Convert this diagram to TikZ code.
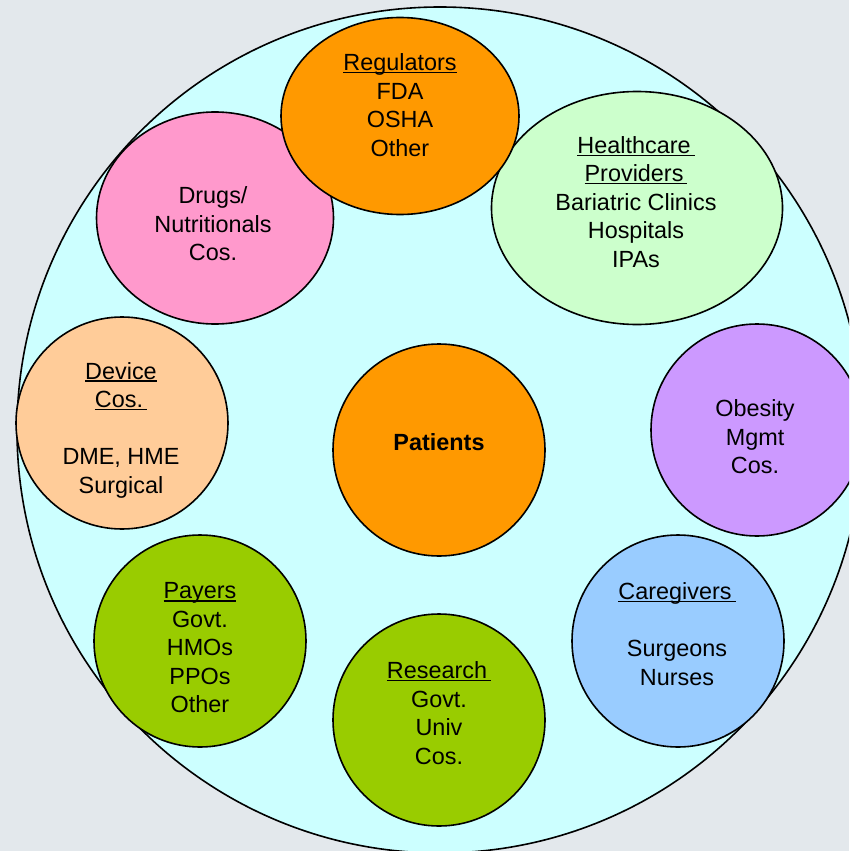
\documentclass[tikz,border=0pt]{standalone}
\usepackage{fontspec}
\setmainfont{Liberation Sans}
\usetikzlibrary{shapes.geometric}
\definecolor{page-grey}{HTML}{E3E8EC}
\definecolor{world-cyan}{HTML}{CCFFFF}
\definecolor{stake-orange}{HTML}{FF9900}
\definecolor{stake-mint}{HTML}{CCFFCC}
\definecolor{stake-pink}{HTML}{FF99CC}
\definecolor{stake-peach}{HTML}{FFCC99}
\definecolor{stake-lilac}{HTML}{CC99FF}
\definecolor{stake-olive}{HTML}{99CC00}
\definecolor{stake-blue}{HTML}{99CCFF}
\newcommand{\hdr}[1]{\setbox0\hbox{#1}\rlap{\rule[-2.6pt]{\wd0}{1.4pt}}\box0}

\begin{document}
\begin{tikzpicture}[
  x=1pt, y=-1pt,
  blob/.style={
    ellipse, draw=black, line width=1.6pt, inner sep=0pt
  },
  disc/.style={
    blob, minimum width=212pt, minimum height=212pt
  },
  txt/.style={
    align=center, inner sep=0pt,
    font=\fontsize{23.4}{28.5}\selectfont
  }
]

%% Canvas
\fill[page-grey] (0,0) rectangle (849,851);
\useasboundingbox (0,0) rectangle (849,851);
\clip (0,0) rectangle (849,851);

%% Surrounding circle
\node[blob, fill=world-cyan, minimum width=846pt, minimum height=846pt] (world) at (440,430) {};

%% Stakeholder circles
\node[blob, fill=stake-pink, minimum width=237pt, minimum height=212pt] (drugs) at (215,218) {};
\node[blob, fill=stake-mint, minimum width=291pt, minimum height=233pt] (providers) at (637,208) {};
\node[blob, fill=stake-orange, minimum width=238pt, minimum height=197pt] (regulators) at (400,116) {};
\node[disc, fill=stake-peach] (devices) at (122,423) {};
\node[disc, fill=stake-orange] (patients) at (439,450) {};
\node[disc, fill=stake-lilac] (obesity) at (757,430) {};
\node[disc, fill=stake-olive] (payers) at (200,641) {};
\node[disc, fill=stake-olive] (research) at (439,720) {};
\node[disc, fill=stake-blue] (caregivers) at (678,641) {};

%% Labels
\node[txt] (regulatorsTxt) at (400,105) {\hdr{Regulators}\\FDA\\OSHA\\Other};
\node[txt] (providersTxt) at (636,202) {\hdr{Healthcare\,}\\\hdr{Providers\,}\\Bariatric Clinics\\Hospitals\\IPAs};
\node[txt] (drugsTxt) at (213,224) {Drugs/\\Nutritionals\\Cos.};
\node[txt] (devicesTxt) at (121,430) {\hdr{Device}\\\hdr{Cos.\,}\\[28.5pt]DME, HME\\Surgical};
\node[txt, font=\fontsize{23.4}{28.5}\selectfont\bfseries] (patientsTxt) at (439,442) {Patients};
\node[txt] (obesityTxt) at (755,437) {Obesity\\Mgmt\\Cos.};
\node[txt] (payersTxt) at (200,648) {\hdr{Payers}\\Govt.\\HMOs\\PPOs\\Other};
\node[txt] (researchTxt) at (439,713) {\hdr{Research\,}\\Govt.\\Univ\\Cos.};
\node[txt] (caregiversTxt) at (677,634) {\hdr{Caregivers\,}\\[28.5pt]Surgeons\\Nurses};

\end{tikzpicture}
\end{document}
